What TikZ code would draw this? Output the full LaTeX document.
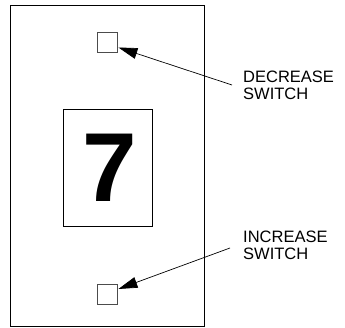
\documentclass[tikz,border=0pt]{standalone}
\usepackage{fontspec}
\setmainfont{Liberation Sans}
\usetikzlibrary{arrows.meta}
\begin{document}
\begin{tikzpicture}[x=1pt,y=1pt,
  frame/.style={draw=black,line width=1pt},
  swbox/.style={draw=black!70,line width=0.8pt,minimum width=20pt,minimum height=20pt,inner sep=0pt},
  lbl/.style={font=\fontsize{16.5}{17}\selectfont,align=left,anchor=north west,inner sep=0pt},
  pointer/.style={line width=0.7pt,-{Triangle[length=19pt,width=11pt]}}]
\useasboundingbox (0,0) rectangle (345,328);
\draw[frame] (10,1) rectangle (204,322);
\node[draw=black,line width=0.8pt,minimum width=89pt,minimum height=117pt,inner sep=0pt] (disp) at (107.5,160.5)
  {\fontsize{98}{98}\selectfont\bfseries\hspace{5pt}7};
\node[swbox] (up) at (107,285.5) {};
\node[swbox] (down) at (107,34) {};
\node[lbl] (dec) at (243,257) {DECREASE\\SWITCH};
\node[lbl] (inc) at (243,97) {INCREASE\\SWITCH};
\coordinate (decstart) at (232,243);
\coordinate (incstart) at (230,80);
\draw[pointer] (decstart) -- ([yshift=-5pt,xshift=1pt]up.east);
\draw[pointer] (incstart) -- ([yshift=5pt,xshift=1pt]down.east);
\end{tikzpicture}
\end{document}
